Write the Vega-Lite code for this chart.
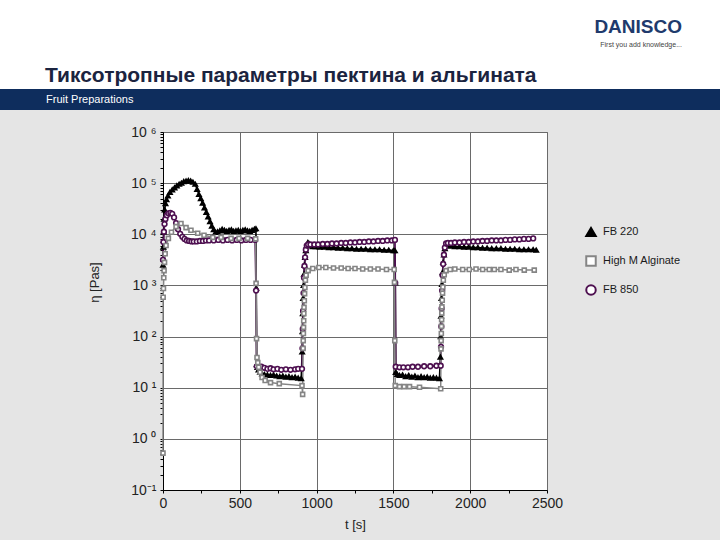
{
"$schema": "https://vega.github.io/schema/vega-lite/v6.json",
"background": "#e5e5e5",
"padding": 0,
"spacing": 14,
"config": {"font": "Liberation Sans", "view": {"stroke": null},
 "legend": {"orient": "none", "legendX": 585, "legendY": 226, "padding": 0, "title": null, "labelFontSize": 11, "labelColor": "#1a1a1a", "symbolSize": 90, "symbolStrokeWidth": 2, "rowPadding": 11, "labelOffset": 6, "labelFont": "Liberation Sans"}},
"vconcat": [
{"spacing": 0, "vconcat": [
{"width": 720, "height": 56, "data": {"values": []}, "mark": "point", "view": {"fill": "white", "stroke": null},
 "title": {"text": "DANISCO", "subtitle": "First you add knowledge...", "anchor": "end", "orient": "top", "offset": -48, "dx": -38, "fontSize": 19, "fontWeight": "bold", "color": "#203a6c", "subtitleFontSize": 7, "subtitleColor": "#444444", "subtitlePadding": 4}},
{"width": 720, "height": 33, "data": {"values": []}, "mark": "point", "view": {"fill": "white", "stroke": null},
 "title": {"text": "Тиксотропные параметры пектина и альгината", "anchor": "start", "orient": "top", "offset": -30, "dx": 45, "fontSize": 21, "fontWeight": "bold", "color": "#1b2440"}},
{"width": 720, "height": 21, "data": {"values": []}, "mark": "point", "view": {"fill": "#0e2d5d", "stroke": null},
 "title": {"text": "Fruit Preparations", "anchor": "start", "orient": "top", "offset": -16, "dx": 46, "fontSize": 11, "fontWeight": "normal", "color": "white"}}
]},
{"spacing": 0, "hconcat": [
{"width": 87, "height": 409, "data": {"values": []}, "mark": "point", "view": {"stroke": null}},
{"width": 384, "height": 358, "view": {"fill": "white", "stroke": "#707070"},
 "data": {"values": [
{"s":"FB 220","t":0,"v":2512},{"s":"FB 220","t":2,"v":5623},{"s":"FB 220","t":4,"v":11220},{"s":"FB 220","t":7,"v":19950},{"s":"FB 220","t":11,"v":30200},{"s":"FB 220","t":16,"v":39810},{"s":"FB 220","t":23,"v":47860},{"s":"FB 220","t":32,"v":56230},{"s":"FB 220","t":45,"v":66070},{"s":"FB 220","t":60,"v":74130},{"s":"FB 220","t":75,"v":81280},{"s":"FB 220","t":90,"v":89130},{"s":"FB 220","t":105,"v":95500},{"s":"FB 220","t":120,"v":100000},{"s":"FB 220","t":135,"v":107200},{"s":"FB 220","t":150,"v":109600},{"s":"FB 220","t":165,"v":112200},{"s":"FB 220","t":180,"v":109600},{"s":"FB 220","t":195,"v":104700},{"s":"FB 220","t":210,"v":95500},{"s":"FB 220","t":222,"v":75860},{"s":"FB 220","t":234,"v":60260},{"s":"FB 220","t":246,"v":50120},{"s":"FB 220","t":258,"v":40740},{"s":"FB 220","t":270,"v":33110},{"s":"FB 220","t":282,"v":26920},{"s":"FB 220","t":294,"v":21880},{"s":"FB 220","t":306,"v":17780},{"s":"FB 220","t":318,"v":14450},{"s":"FB 220","t":330,"v":12300},{"s":"FB 220","t":342,"v":10960},{"s":"FB 220","t":355,"v":11220},{"s":"FB 220","t":370,"v":11750},{"s":"FB 220","t":385,"v":12590},{"s":"FB 220","t":400,"v":12020},{"s":"FB 220","t":415,"v":11480},{"s":"FB 220","t":430,"v":12020},{"s":"FB 220","t":445,"v":12300},{"s":"FB 220","t":460,"v":11480},{"s":"FB 220","t":475,"v":11750},{"s":"FB 220","t":490,"v":12020},{"s":"FB 220","t":505,"v":11480},{"s":"FB 220","t":520,"v":12020},{"s":"FB 220","t":535,"v":12300},{"s":"FB 220","t":550,"v":11750},{"s":"FB 220","t":565,"v":11480},{"s":"FB 220","t":580,"v":12020},{"s":"FB 220","t":595,"v":12590},{"s":"FB 220","t":605,"v":12880},{"s":"FB 220","t":607,"v":891},{"s":"FB 220","t":610,"v":28.2},{"s":"FB 220","t":615,"v":25.1},{"s":"FB 220","t":622,"v":22.4},{"s":"FB 220","t":632,"v":20.0},{"s":"FB 220","t":645,"v":18.6},{"s":"FB 220","t":660,"v":18.2},{"s":"FB 220","t":680,"v":17.8},{"s":"FB 220","t":700,"v":17.4},{"s":"FB 220","t":720,"v":17.8},{"s":"FB 220","t":740,"v":17.0},{"s":"FB 220","t":760,"v":16.6},{"s":"FB 220","t":780,"v":17.0},{"s":"FB 220","t":800,"v":16.2},{"s":"FB 220","t":820,"v":16.6},{"s":"FB 220","t":840,"v":15.8},{"s":"FB 220","t":860,"v":16.2},{"s":"FB 220","t":880,"v":15.5},{"s":"FB 220","t":900,"v":15.1},{"s":"FB 220","t":906,"v":50.1},{"s":"FB 220","t":908,"v":126},{"s":"FB 220","t":910,"v":282},{"s":"FB 220","t":912,"v":562},{"s":"FB 220","t":915,"v":1000},{"s":"FB 220","t":918,"v":1660},{"s":"FB 220","t":921,"v":2512},{"s":"FB 220","t":925,"v":3548},{"s":"FB 220","t":930,"v":4786},{"s":"FB 220","t":936,"v":6026},{"s":"FB 220","t":943,"v":6918},{"s":"FB 220","t":950,"v":6607},{"s":"FB 220","t":960,"v":6026},{"s":"FB 220","t":975,"v":5754},{"s":"FB 220","t":995,"v":5754},{"s":"FB 220","t":1020,"v":5623},{"s":"FB 220","t":1050,"v":5623},{"s":"FB 220","t":1080,"v":5495},{"s":"FB 220","t":1110,"v":5495},{"s":"FB 220","t":1140,"v":5370},{"s":"FB 220","t":1170,"v":5370},{"s":"FB 220","t":1200,"v":5248},{"s":"FB 220","t":1230,"v":5248},{"s":"FB 220","t":1260,"v":5129},{"s":"FB 220","t":1290,"v":5129},{"s":"FB 220","t":1320,"v":5129},{"s":"FB 220","t":1350,"v":5012},{"s":"FB 220","t":1380,"v":5012},{"s":"FB 220","t":1410,"v":5012},{"s":"FB 220","t":1440,"v":4898},{"s":"FB 220","t":1470,"v":4898},{"s":"FB 220","t":1500,"v":4786},{"s":"FB 220","t":1510,"v":4786},{"s":"FB 220","t":1512,"v":1122},{"s":"FB 220","t":1515,"v":20.0},{"s":"FB 220","t":1525,"v":18.2},{"s":"FB 220","t":1540,"v":17.4},{"s":"FB 220","t":1560,"v":17.8},{"s":"FB 220","t":1580,"v":16.6},{"s":"FB 220","t":1600,"v":17.4},{"s":"FB 220","t":1620,"v":16.2},{"s":"FB 220","t":1640,"v":17.0},{"s":"FB 220","t":1660,"v":15.8},{"s":"FB 220","t":1680,"v":16.6},{"s":"FB 220","t":1700,"v":15.8},{"s":"FB 220","t":1720,"v":16.2},{"s":"FB 220","t":1740,"v":15.5},{"s":"FB 220","t":1760,"v":15.8},{"s":"FB 220","t":1780,"v":15.5},{"s":"FB 220","t":1800,"v":15.1},{"s":"FB 220","t":1806,"v":39.8},{"s":"FB 220","t":1808,"v":100},{"s":"FB 220","t":1810,"v":251},{"s":"FB 220","t":1813,"v":562},{"s":"FB 220","t":1816,"v":1047},{"s":"FB 220","t":1820,"v":1778},{"s":"FB 220","t":1824,"v":2818},{"s":"FB 220","t":1829,"v":3981},{"s":"FB 220","t":1835,"v":5248},{"s":"FB 220","t":1842,"v":6310},{"s":"FB 220","t":1850,"v":6607},{"s":"FB 220","t":1860,"v":6166},{"s":"FB 220","t":1875,"v":5888},{"s":"FB 220","t":1900,"v":5754},{"s":"FB 220","t":1930,"v":5754},{"s":"FB 220","t":1960,"v":5623},{"s":"FB 220","t":1990,"v":5623},{"s":"FB 220","t":2020,"v":5495},{"s":"FB 220","t":2050,"v":5495},{"s":"FB 220","t":2080,"v":5370},{"s":"FB 220","t":2110,"v":5370},{"s":"FB 220","t":2140,"v":5248},{"s":"FB 220","t":2170,"v":5248},{"s":"FB 220","t":2200,"v":5248},{"s":"FB 220","t":2230,"v":5129},{"s":"FB 220","t":2260,"v":5129},{"s":"FB 220","t":2290,"v":5129},{"s":"FB 220","t":2320,"v":5012},{"s":"FB 220","t":2350,"v":5012},{"s":"FB 220","t":2380,"v":5012},{"s":"FB 220","t":2410,"v":5012},{"s":"FB 220","t":2430,"v":4898},
{"s":"FB 850","t":0,"v":3162},{"s":"FB 850","t":3,"v":7079},{"s":"FB 850","t":6,"v":11220},{"s":"FB 850","t":10,"v":15850},{"s":"FB 850","t":16,"v":19950},{"s":"FB 850","t":25,"v":23440},{"s":"FB 850","t":35,"v":25700},{"s":"FB 850","t":48,"v":26300},{"s":"FB 850","t":60,"v":25120},{"s":"FB 850","t":72,"v":21380},{"s":"FB 850","t":85,"v":16600},{"s":"FB 850","t":98,"v":12590},{"s":"FB 850","t":112,"v":10230},{"s":"FB 850","t":126,"v":8913},{"s":"FB 850","t":140,"v":8128},{"s":"FB 850","t":155,"v":7586},{"s":"FB 850","t":170,"v":7413},{"s":"FB 850","t":185,"v":7244},{"s":"FB 850","t":200,"v":7244},{"s":"FB 850","t":220,"v":7244},{"s":"FB 850","t":240,"v":7413},{"s":"FB 850","t":260,"v":7413},{"s":"FB 850","t":280,"v":7586},{"s":"FB 850","t":300,"v":7586},{"s":"FB 850","t":330,"v":7586},{"s":"FB 850","t":360,"v":7762},{"s":"FB 850","t":390,"v":7586},{"s":"FB 850","t":420,"v":7762},{"s":"FB 850","t":450,"v":7586},{"s":"FB 850","t":480,"v":7762},{"s":"FB 850","t":510,"v":7586},{"s":"FB 850","t":540,"v":7762},{"s":"FB 850","t":570,"v":7762},{"s":"FB 850","t":600,"v":7762},{"s":"FB 850","t":606,"v":794},{"s":"FB 850","t":610,"v":26.3},{"s":"FB 850","t":625,"v":25.1},{"s":"FB 850","t":640,"v":25.7},{"s":"FB 850","t":660,"v":24.5},{"s":"FB 850","t":680,"v":23.4},{"s":"FB 850","t":700,"v":24.0},{"s":"FB 850","t":720,"v":22.9},{"s":"FB 850","t":745,"v":23.4},{"s":"FB 850","t":770,"v":22.4},{"s":"FB 850","t":800,"v":22.9},{"s":"FB 850","t":830,"v":22.4},{"s":"FB 850","t":860,"v":22.9},{"s":"FB 850","t":880,"v":23.4},{"s":"FB 850","t":905,"v":23.4},{"s":"FB 850","t":908,"v":58.9},{"s":"FB 850","t":910,"v":141},{"s":"FB 850","t":912,"v":316},{"s":"FB 850","t":915,"v":708},{"s":"FB 850","t":918,"v":1413},{"s":"FB 850","t":921,"v":2399},{"s":"FB 850","t":925,"v":3548},{"s":"FB 850","t":930,"v":5012},{"s":"FB 850","t":936,"v":6026},{"s":"FB 850","t":945,"v":6310},{"s":"FB 850","t":960,"v":6310},{"s":"FB 850","t":985,"v":6310},{"s":"FB 850","t":1010,"v":6310},{"s":"FB 850","t":1040,"v":6457},{"s":"FB 850","t":1070,"v":6457},{"s":"FB 850","t":1100,"v":6607},{"s":"FB 850","t":1130,"v":6607},{"s":"FB 850","t":1160,"v":6761},{"s":"FB 850","t":1190,"v":6761},{"s":"FB 850","t":1220,"v":6918},{"s":"FB 850","t":1250,"v":6918},{"s":"FB 850","t":1280,"v":7079},{"s":"FB 850","t":1310,"v":7079},{"s":"FB 850","t":1340,"v":7244},{"s":"FB 850","t":1370,"v":7244},{"s":"FB 850","t":1400,"v":7413},{"s":"FB 850","t":1430,"v":7413},{"s":"FB 850","t":1460,"v":7586},{"s":"FB 850","t":1490,"v":7586},{"s":"FB 850","t":1510,"v":7762},{"s":"FB 850","t":1512,"v":1122},{"s":"FB 850","t":1515,"v":25.7},{"s":"FB 850","t":1540,"v":25.1},{"s":"FB 850","t":1565,"v":25.1},{"s":"FB 850","t":1595,"v":25.1},{"s":"FB 850","t":1625,"v":25.7},{"s":"FB 850","t":1660,"v":25.7},{"s":"FB 850","t":1700,"v":26.3},{"s":"FB 850","t":1740,"v":26.3},{"s":"FB 850","t":1780,"v":26.9},{"s":"FB 850","t":1808,"v":26.9},{"s":"FB 850","t":1810,"v":63.1},{"s":"FB 850","t":1812,"v":158},{"s":"FB 850","t":1814,"v":355},{"s":"FB 850","t":1817,"v":794},{"s":"FB 850","t":1820,"v":1585},{"s":"FB 850","t":1824,"v":2630},{"s":"FB 850","t":1829,"v":3981},{"s":"FB 850","t":1835,"v":5495},{"s":"FB 850","t":1843,"v":6607},{"s":"FB 850","t":1855,"v":6761},{"s":"FB 850","t":1875,"v":6761},{"s":"FB 850","t":1900,"v":6918},{"s":"FB 850","t":1930,"v":6918},{"s":"FB 850","t":1960,"v":7079},{"s":"FB 850","t":1990,"v":7079},{"s":"FB 850","t":2020,"v":7244},{"s":"FB 850","t":2050,"v":7244},{"s":"FB 850","t":2080,"v":7413},{"s":"FB 850","t":2110,"v":7413},{"s":"FB 850","t":2140,"v":7586},{"s":"FB 850","t":2170,"v":7586},{"s":"FB 850","t":2200,"v":7586},{"s":"FB 850","t":2230,"v":7762},{"s":"FB 850","t":2260,"v":7762},{"s":"FB 850","t":2290,"v":7943},{"s":"FB 850","t":2320,"v":7943},{"s":"FB 850","t":2350,"v":8128},{"s":"FB 850","t":2380,"v":8128},{"s":"FB 850","t":2410,"v":8318},
{"s":"High M Alginate","t":0,"v":0.525},{"s":"High M Alginate","t":1,"v":589},{"s":"High M Alginate","t":3,"v":871},{"s":"High M Alginate","t":5,"v":1413},{"s":"High M Alginate","t":7,"v":1950},{"s":"High M Alginate","t":10,"v":2818},{"s":"High M Alginate","t":14,"v":4169},{"s":"High M Alginate","t":20,"v":6026},{"s":"High M Alginate","t":35,"v":8318},{"s":"High M Alginate","t":55,"v":10960},{"s":"High M Alginate","t":85,"v":14130},{"s":"High M Alginate","t":117,"v":16220},{"s":"High M Alginate","t":150,"v":13490},{"s":"High M Alginate","t":182,"v":12020},{"s":"High M Alginate","t":226,"v":10470},{"s":"High M Alginate","t":267,"v":9550},{"s":"High M Alginate","t":324,"v":8710},{"s":"High M Alginate","t":378,"v":8710},{"s":"High M Alginate","t":443,"v":8318},{"s":"High M Alginate","t":495,"v":8318},{"s":"High M Alginate","t":551,"v":8318},{"s":"High M Alginate","t":603,"v":8128},{"s":"High M Alginate","t":606,"v":1096},{"s":"High M Alginate","t":609,"v":91.2},{"s":"High M Alginate","t":612,"v":38.9},{"s":"High M Alginate","t":617,"v":30.9},{"s":"High M Alginate","t":623,"v":25.1},{"s":"High M Alginate","t":632,"v":20.0},{"s":"High M Alginate","t":645,"v":15.85},{"s":"High M Alginate","t":665,"v":13.8},{"s":"High M Alginate","t":700,"v":12.6},{"s":"High M Alginate","t":757,"v":12.0},{"s":"High M Alginate","t":905,"v":11.0},{"s":"High M Alginate","t":909,"v":7.41},{"s":"High M Alginate","t":912,"v":58.9},{"s":"High M Alginate","t":913,"v":83.2},{"s":"High M Alginate","t":914,"v":115},{"s":"High M Alginate","t":915,"v":151},{"s":"High M Alginate","t":916,"v":204},{"s":"High M Alginate","t":917,"v":282},{"s":"High M Alginate","t":918,"v":372},{"s":"High M Alginate","t":920,"v":501},{"s":"High M Alginate","t":922,"v":692},{"s":"High M Alginate","t":924,"v":912},{"s":"High M Alginate","t":927,"v":1259},{"s":"High M Alginate","t":932,"v":1585},{"s":"High M Alginate","t":945,"v":1950},{"s":"High M Alginate","t":975,"v":2138},{"s":"High M Alginate","t":1015,"v":2239},{"s":"High M Alginate","t":1060,"v":2239},{"s":"High M Alginate","t":1110,"v":2188},{"s":"High M Alginate","t":1160,"v":2188},{"s":"High M Alginate","t":1205,"v":2138},{"s":"High M Alginate","t":1250,"v":2138},{"s":"High M Alginate","t":1300,"v":2089},{"s":"High M Alginate","t":1350,"v":2089},{"s":"High M Alginate","t":1400,"v":2089},{"s":"High M Alginate","t":1455,"v":2042},{"s":"High M Alginate","t":1505,"v":2042},{"s":"High M Alginate","t":1507,"v":1148},{"s":"High M Alginate","t":1509,"v":83.2},{"s":"High M Alginate","t":1512,"v":11.0},{"s":"High M Alginate","t":1540,"v":10.5},{"s":"High M Alginate","t":1570,"v":10.5},{"s":"High M Alginate","t":1605,"v":10.5},{"s":"High M Alginate","t":1670,"v":10.2},{"s":"High M Alginate","t":1808,"v":9.55},{"s":"High M Alginate","t":1810,"v":57.5},{"s":"High M Alginate","t":1811,"v":83.2},{"s":"High M Alginate","t":1812,"v":115},{"s":"High M Alginate","t":1813,"v":158},{"s":"High M Alginate","t":1814,"v":214},{"s":"High M Alginate","t":1815,"v":288},{"s":"High M Alginate","t":1816,"v":380},{"s":"High M Alginate","t":1818,"v":513},{"s":"High M Alginate","t":1820,"v":708},{"s":"High M Alginate","t":1822,"v":933},{"s":"High M Alginate","t":1825,"v":1259},{"s":"High M Alginate","t":1831,"v":1622},{"s":"High M Alginate","t":1843,"v":1950},{"s":"High M Alginate","t":1870,"v":2042},{"s":"High M Alginate","t":1900,"v":2089},{"s":"High M Alginate","t":1951,"v":2042},{"s":"High M Alginate","t":1994,"v":2042},{"s":"High M Alginate","t":2038,"v":2089},{"s":"High M Alginate","t":2081,"v":2042},{"s":"High M Alginate","t":2124,"v":2042},{"s":"High M Alginate","t":2157,"v":2042},{"s":"High M Alginate","t":2200,"v":2042},{"s":"High M Alginate","t":2254,"v":1995},{"s":"High M Alginate","t":2298,"v":2042},{"s":"High M Alginate","t":2352,"v":1995},{"s":"High M Alginate","t":2417,"v":1995}
 ]},
 "encoding": {
  "x": {"field": "t", "type": "quantitative", "scale": {"domain": [0, 2500], "nice": false, "zero": false},
   "axis": {"title": "t  [s]", "values": [0,250,500,750,1000,1250,1500,1750,2000,2250,2500], "format": "d",
    "labelExpr": "datum.value % 500 == 0 ? datum.label : ''",
    "grid": true, "gridColor": "#6a6a6a", "gridOpacity": {"condition": {"test": "datum.value % 500 != 0", "value": 0}, "value": 1},
    "domainColor": "#000000", "tickColor": "#000000", "tickSize": 3, "labelFontSize": 14, "labelColor": "#222222", "labelPadding": 3,
    "labelFlush": false, "labelOverlap": false, "titleFontSize": 13, "titleFontWeight": "normal", "titleColor": "#222222", "titlePadding": 8}},
  "y": {"field": "v", "type": "quantitative", "scale": {"type": "log", "domain": [0.1, 1000000], "nice": false},
   "axis": {"title": "η  [Pas]",
    "values": [0.1,0.2,0.3,0.4,0.5,0.6,0.7,0.8,0.9,1,2,3,4,5,6,7,8,9,10,20,30,40,50,60,70,80,90,100,200,300,400,500,600,700,800,900,1000,2000,3000,4000,5000,6000,7000,8000,9000,10000,20000,30000,40000,50000,60000,70000,80000,90000,100000,200000,300000,400000,500000,600000,700000,800000,900000,1000000],
    "labelExpr": "abs(log(datum.value)/LN10 - round(log(datum.value)/LN10)) < 0.01 ? (round(log(datum.value)/LN10) < 0 ? '10⁻¹' : '10 ' + substring('⁰¹²³⁴⁵⁶', round(log(datum.value)/LN10), round(log(datum.value)/LN10) + 1)) : ''",
    "grid": true, "gridColor": "#6a6a6a", "gridOpacity": {"condition": {"test": "abs(log(datum.value)/LN10 - round(log(datum.value)/LN10)) > 0.01", "value": 0}, "value": 1},
    "domainColor": "#000000", "tickColor": "#000000", "tickSize": 3, "labelFontSize": 14, "labelColor": "#222222", "labelPadding": 4,
    "labelFlush": false, "labelOverlap": false, "titleFontSize": 13, "titleFontWeight": "normal", "titleColor": "#222222", "titleX": -62, "titleY": 150}}
 },
 "layer": [
  {"mark": {"type": "line"},
   "encoding": {
    "stroke": {"field": "s", "type": "nominal", "scale": {"domain": ["FB 850", "FB 220", "High M Alginate"], "range": ["#4e1050", "#000000", "#858585"]}, "legend": null},
    "strokeWidth": {"field": "s", "type": "nominal", "scale": {"domain": ["FB 850", "FB 220", "High M Alginate"], "range": [1.8, 1.5, 2]}, "legend": null},
    "order": {"field": "t"}}},
  {"mark": {"type": "point", "filled": false, "opacity": 1, "strokeWidth": 1.6},
   "encoding": {
    "color": {"field": "s", "type": "nominal", "scale": {"domain": ["FB 220", "High M Alginate", "FB 850"], "range": ["#000000", "#858585", "#4e1050"]}},
    "shape": {"field": "s", "type": "nominal", "scale": {"domain": ["FB 220", "High M Alginate", "FB 850"], "range": ["triangle-up", "square", "circle"]}},
    "fill": {"field": "s", "type": "nominal", "scale": {"domain": ["FB 220", "High M Alginate", "FB 850"], "range": ["#000000", "#ffffff", "#ffffff"]}},
    "size": {"field": "s", "type": "nominal", "scale": {"domain": ["FB 850", "FB 220", "High M Alginate"], "range": [22, 16, 45]}, "legend": null}}}
 ]}
]}
]
}
